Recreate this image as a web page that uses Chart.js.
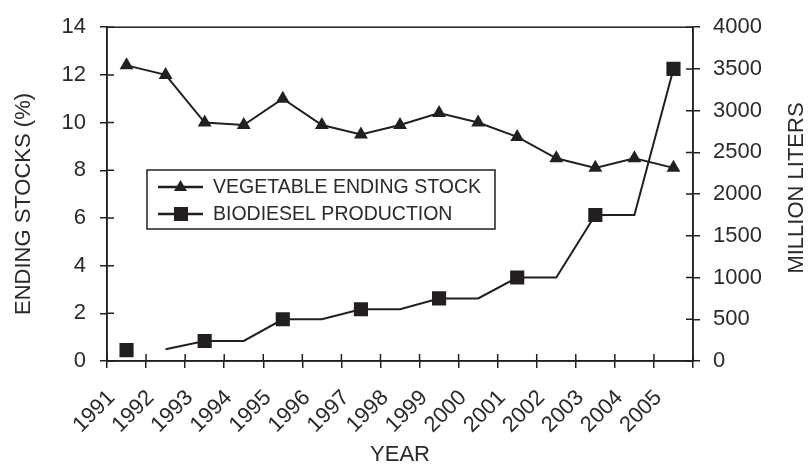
<!DOCTYPE html>
<html>
<head>
<meta charset="utf-8">
<title>Vegetable oil ending stocks vs biodiesel production</title>
<script src="https://cdn.jsdelivr.net/npm/chart.js@4.4.1/dist/chart.umd.min.js"></script>
<style>
    html, body { margin: 0; padding: 0; background: #fff; }
    #wrap { width: 810px; height: 468px; position: relative; }
</style>
</head>
<body>
<div id="wrap"><canvas id="stocksChart"></canvas></div>
<script>
// ========== data ==========
const years = ['1991', '1992', '1993', '1994', '1995', '1996', '1997', '1998',
               '1999', '2000', '2001', '2002', '2003', '2004', '2005'];
const vegStock = [12.4, 12.0, 10.0, 9.9, 11.0, 9.9, 9.5, 9.9, 10.4, 10.0, 9.4, 8.5, 8.1, 8.5, 8.1];
const biodiesel = [130, 140, 240, 240, 500, 500, 620, 620, 750, 750, 1000, 1000, 1750, 1750, 3500];
const leftTicks = [0, 2, 4, 6, 8, 10, 12, 14];
const rightTicks = [0, 500, 1000, 1500, 2000, 2500, 3000, 3500, 4000];
const seriesNames = ['VEGETABLE ENDING STOCK', 'BIODIESEL PRODUCTION'];
const axisTitles = ['ENDING STOCKS (%)', 'MILLION LITERS', 'YEAR'];

const INK = '#231f20';
const TEXT = '#2a2a2a';
const FONT = "'Liberation Sans', Arial, sans-serif";

// draws a vertical title reading bottom-to-top
function sideTitle(ctx, text, x, y) {
    ctx.save();
    ctx.fillStyle = TEXT;
    ctx.font = '22px ' + FONT;
    ctx.textAlign = 'center';
    ctx.textBaseline = 'middle';
    ctx.translate(x, y);
    ctx.rotate(-Math.PI / 2);
    ctx.fillText(text, 0, 0);
    ctx.restore();
}

// frame, inner tick halves, side titles and the boxed legend
const decorations = {
    id: 'decorations',
    afterDraw(chart) {
        const { ctx, chartArea: a, scales } = chart;
        ctx.save();
        ctx.strokeStyle = INK;
        ctx.lineWidth = 1.5;
        ctx.strokeRect(a.left, a.top, a.right - a.left, a.bottom - a.top);

        // tick marks also poke into the plot
        ctx.beginPath();
        scales.y.ticks.forEach((t, i) => {
            const py = scales.y.getPixelForTick(i);
            ctx.moveTo(a.left, py); ctx.lineTo(a.left + 7, py);
        });
        scales.y2.ticks.forEach((t, i) => {
            const py = scales.y2.getPixelForTick(i);
            ctx.moveTo(a.right, py); ctx.lineTo(a.right - 7, py);
        });
        const step = (a.right - a.left) / years.length;
        for (let i = 0; i <= years.length; i++) {
            const px = a.left + i * step;
            ctx.moveTo(px, a.bottom); ctx.lineTo(px, a.bottom - 7);
        }
        ctx.stroke();
        ctx.restore();

        sideTitle(ctx, axisTitles[0], 24, 204);
        sideTitle(ctx, axisTitles[1], 797, 188);

        // legend box
        ctx.save();
        const bx = 147, by = 170, bw = 348, bh = 59;
        ctx.fillStyle = '#fff';
        ctx.fillRect(bx, by, bw, bh);
        ctx.strokeStyle = INK;
        ctx.lineWidth = 1.5;
        ctx.strokeRect(bx, by, bw, bh);
        const rows = [by + 17, by + 44];
        chart.data.datasets.forEach((ds, i) => {
            const ry = rows[i];
            ctx.strokeStyle = INK;
            ctx.lineWidth = 2.5;
            ctx.beginPath();
            ctx.moveTo(bx + 11, ry); ctx.lineTo(bx + 56, ry);
            ctx.stroke();
            ctx.fillStyle = INK;
            ctx.beginPath();
            if (i === 0) {
                ctx.moveTo(bx + 33.5, ry - 7);
                ctx.lineTo(bx + 40, ry + 4);
                ctx.lineTo(bx + 27, ry + 4);
                ctx.closePath();
            } else {
                ctx.rect(bx + 27, ry - 7, 14, 14);
            }
            ctx.fill();
            ctx.fillStyle = TEXT;
            ctx.font = '19.5px ' + FONT;
            ctx.textAlign = 'left';
            ctx.textBaseline = 'middle';
            ctx.fillText(seriesNames[i], bx + 66, ry + 1);
        });
        ctx.restore();
    }
};

const ctx = document.getElementById('stocksChart').getContext('2d');
new Chart(ctx, {
    type: 'line',
    data: {
        labels: years,
        datasets: [
            {
                label: seriesNames[0],
                data: vegStock,
                yAxisID: 'y',
                borderColor: INK,
                backgroundColor: INK,
                borderWidth: 2,
                pointStyle: 'triangle',
                pointRadius: 8,
                pointBorderWidth: 0,
                tension: 0
            },
            {
                label: seriesNames[1],
                data: biodiesel,
                yAxisID: 'y2',
                borderColor: INK,
                backgroundColor: INK,
                borderWidth: 2,
                pointStyle: 'rect',
                // markers only on the surveyed years, first point stands alone
                pointRadius: c => (c.dataIndex % 2 === 0 ? 10 : 0),
                pointBorderWidth: 0,
                segment: {
                    borderColor: c => (c.p0DataIndex === 0 ? 'rgba(0,0,0,0)' : INK)
                },
                tension: 0
            }
        ]
    },
    options: {
        responsive: true,
        maintainAspectRatio: false,
        animation: false,
        layout: { padding: { top: 26, left: 0, right: 0, bottom: 0 } },
        plugins: {
            legend: { display: false },
            tooltip: { enabled: false }
        },
        scales: {
            x: {
                type: 'category',
                offset: true,
                border: { color: INK, width: 1.5 },
                grid: { offset: true, drawOnChartArea: false, tickLength: 7, color: INK, lineWidth: 1.5 },
                ticks: {
                    color: TEXT,
                    font: { family: FONT, size: 22 },
                    minRotation: 45,
                    maxRotation: 45,
                    autoSkip: false,
                    labelOffset: -15,
                    padding: 17
                },
                title: {
                    display: true,
                    text: axisTitles[2],
                    color: TEXT,
                    font: { family: FONT, size: 22 },
                    padding: { top: 0, bottom: 0 }
                },
                afterFit: s => { s.height = 107; }
            },
            y: {
                position: 'left',
                min: 0,
                max: 14,
                afterBuildTicks: s => { s.ticks = leftTicks.map(v => ({ value: v })); },
                border: { color: INK, width: 1.5 },
                grid: { drawOnChartArea: false, tickLength: 7, color: INK, lineWidth: 1.5 },
                ticks: {
                    color: TEXT,
                    font: { family: FONT, size: 22 },
                    padding: 14
                },
                afterFit: s => { s.width = 107; }
            },
            y2: {
                position: 'right',
                min: 0,
                max: 4000,
                afterBuildTicks: s => { s.ticks = rightTicks.map(v => ({ value: v })); },
                border: { color: INK, width: 1.5 },
                grid: { drawOnChartArea: false, tickLength: 7, color: INK, lineWidth: 1.5 },
                ticks: {
                    color: TEXT,
                    font: { family: FONT, size: 22 },
                    padding: 13,
                    callback: v => String(v)
                },
                afterFit: s => { s.width = 117; }
            }
        }
    },
    plugins: [decorations]
});
</script>
</body>
</html>
